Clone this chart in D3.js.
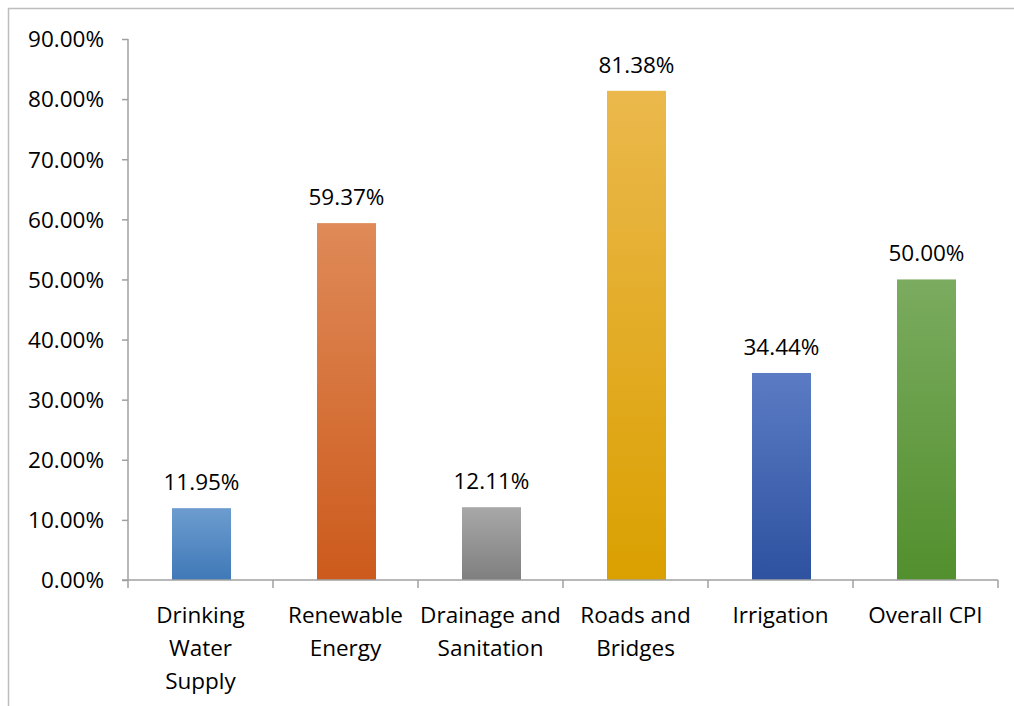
<!DOCTYPE html>
<html>
<head>
<meta charset="utf-8">
<script src="https://cdn.jsdelivr.net/npm/d3@7"></script>
<style>
  body { margin: 0; background: #fff; }
  svg text { font-family: "Open Sans", sans-serif; fill: #000; }
</style>
</head>
<body>
<svg id="chart" width="1014" height="706"></svg>
<script>
// chart data
var categories = ["Drinking\nWater\nSupply", "Renewable\nEnergy", "Drainage and\nSanitation", "Roads and\nBridges", "Irrigation", "Overall CPI"];
var values = [11.95, 59.37, 12.11, 81.38, 34.44, 50.00];
var tickValues = [0, 10, 20, 30, 40, 50, 60, 70, 80, 90];
var barTop = ["#6d9ccf", "#df8a58", "#a8a8a8", "#ebb84c", "#5b7cc4", "#7bab5f"];
var barBottom = ["#3f79b7", "#cc5a1c", "#7f7f7f", "#daa000", "#2e51a0", "#528f2d"];

var fontSize = 22.5;
var svg = d3.select("#chart");

// outer frame
svg.append("rect")
    .attr("x", 8.5).attr("y", 8.5)
    .attr("width", 1020).attr("height", 720)
    .attr("fill", "none")
    .attr("stroke", "#bdbdbd")
    .attr("stroke-width", 1.5);

var plotLeft = 128, plotRight = 998, plotTop = 39, plotBottom = 580;

var x = d3.scaleBand().domain(d3.range(categories.length)).range([plotLeft, plotRight]);
var y = d3.scaleLinear().domain([0, 90]).range([plotBottom, plotTop]);

// gradients
var defs = svg.append("defs");
values.forEach(function(v, i) {
  var g = defs.append("linearGradient")
      .attr("id", "grad" + i)
      .attr("x1", 0).attr("y1", 0).attr("x2", 0).attr("y2", 1);
  g.append("stop").attr("offset", "0%").attr("stop-color", barTop[i]);
  g.append("stop").attr("offset", "100%").attr("stop-color", barBottom[i]);
});

// bars
var barW = 59;
svg.selectAll(".bar")
  .data(values)
  .enter().append("rect")
    .attr("class", "bar")
    .attr("x", function(d, i) { return x(i) + x.bandwidth() / 2 - barW / 2 + 1; })
    .attr("y", function(d) { return y(d); })
    .attr("width", barW)
    .attr("height", function(d) { return y(0) - y(d); })
    .attr("fill", function(d, i) { return "url(#grad" + i + ")"; });

// value labels
svg.selectAll(".val")
  .data(values)
  .enter().append("text")
    .attr("class", "val")
    .attr("x", function(d, i) { return x(i) + x.bandwidth() / 2 + 1; })
    .attr("y", function(d) { return y(d) - 18; })
    .attr("text-anchor", "middle")
    .attr("font-size", fontSize)
    .text(function(d) { return d.toFixed(2) + "%"; });

// y axis
var yAxis = d3.axisLeft(y)
    .tickValues(tickValues)
    .tickSize(6)
    .tickPadding(18)
    .tickFormat(function(d) { return d.toFixed(2) + "%"; });
var gy = svg.append("g").attr("transform", "translate(" + plotLeft + ",0)").call(yAxis);
gy.select(".domain").attr("stroke", "#a0a0a0").attr("stroke-width", 1.5).attr("d", "M0," + plotTop + "V" + plotBottom);
gy.selectAll(".tick line").attr("stroke", "#a0a0a0").attr("stroke-width", 1.5);
gy.selectAll(".tick text").attr("font-size", fontSize).attr("font-family", "Open Sans").attr("fill", "#000").attr("dy", "0.35em");

// x axis
var gx = svg.append("g").attr("transform", "translate(0," + plotBottom + ")");
gx.append("line")
    .attr("x1", plotLeft - 6).attr("x2", plotRight)
    .attr("stroke", "#a0a0a0").attr("stroke-width", 1.5);
gx.selectAll(".xtick")
  .data(d3.range(categories.length + 1))
  .enter().append("line")
    .attr("x1", function(i) { return plotLeft + i * x.step(); })
    .attr("x2", function(i) { return plotLeft + i * x.step(); })
    .attr("y1", 0).attr("y2", 8)
    .attr("stroke", "#a0a0a0").attr("stroke-width", 1.5);

var lab = gx.selectAll(".xlab")
  .data(categories)
  .enter().append("text")
    .attr("class", "xlab")
    .attr("text-anchor", "middle")
    .attr("font-size", fontSize)
    .attr("transform", function(d, i) { return "translate(" + (x(i) + x.bandwidth() / 2) + ",43)"; });
lab.selectAll("tspan")
  .data(function(d) { return d.split("\n"); })
  .enter().append("tspan")
    .attr("x", 0)
    .attr("dy", function(d, i) { return i === 0 ? 0 : 33; })
    .text(function(d) { return d; });
</script>
</body>
</html>
